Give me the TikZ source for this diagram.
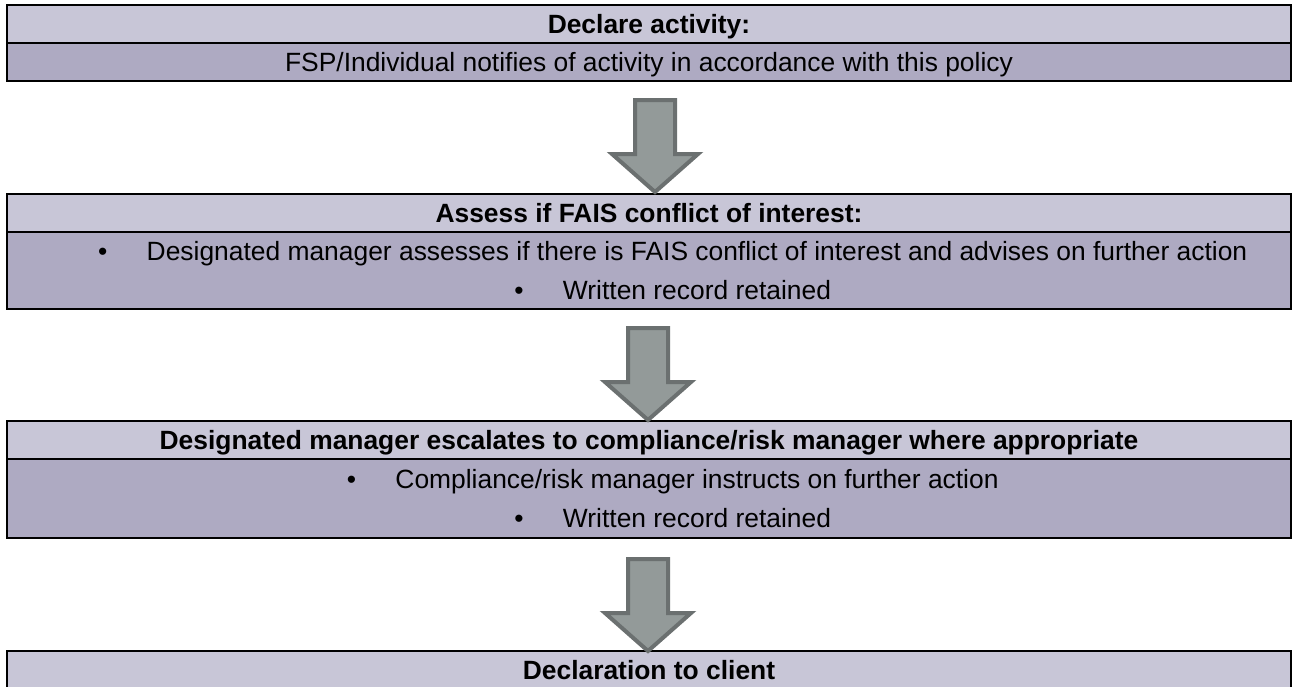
\documentclass[tikz,border=0pt]{standalone}
\usepackage{fontspec}
\setmainfont{Liberation Sans}
\usetikzlibrary{positioning}
\definecolor{headfill}{HTML}{C8C6D7}
\definecolor{bodyfill}{HTML}{AEAAC2}
\definecolor{arrowfill}{HTML}{939A99}
\definecolor{arrowedge}{HTML}{6B7070}

\begin{document}
\begin{tikzpicture}[x=1pt,y=-1pt,
        headcell/.style={draw,line width=2pt,fill=headfill,minimum width=1284pt,minimum height=38pt,inner sep=0pt,
          font=\fontsize{26.4}{30}\selectfont\bfseries,text height=19pt,text depth=0pt},
        bodycell/.style={draw,line width=2pt,fill=bodyfill,minimum width=1284pt,inner sep=0pt,
          font=\fontsize{26.4}{30}\selectfont,text height=19pt,text depth=0pt},
        linetext/.style={inner sep=0pt,font=\fontsize{26.4}{30}\selectfont,text height=19pt,text depth=0pt},
        bulletmark/.style={inner sep=0pt,font=\fontsize{26.4}{30}\selectfont,text height=19pt,text depth=0pt},
        downarrow/.pic={\draw[line width=4pt,draw=arrowedge,fill=arrowfill,line join=miter]
          (-20,2) -- (20,2) -- (20,56) -- (43,56) -- (0,94) -- (-43,56) -- (-20,56) -- cycle;}]

        \useasboundingbox (0,0) rectangle (1293,686);

        %declare
        \node[headcell] (H1) at (649,24) {Declare activity:};
        \node[bodycell,minimum height=38pt] (B1) at (649,62) {FSP/Individual notifies of activity in accordance with this policy};

        %assess
        \node[headcell] (H2) at (649,213) {Assess if FAIS conflict of interest:};
        \node[bodycell,minimum height=77pt] (B2) at (649,270.5) {};
        \node[linetext] (L2a) at (697,251) {Designated manager assesses if there is FAIS conflict of interest and advises on further action};
        \node[linetext] (L2b) at (697,290) {Written record retained};
        \node[bulletmark,left=39pt of L2a] (D2a) {\textbullet};
        \node[bulletmark,left=39pt of L2b] (D2b) {\textbullet};

        %escalate
        \node[headcell] (H3) at (649,440) {Designated manager escalates to compliance/risk manager where appropriate};
        \node[bodycell,minimum height=79pt] (B3) at (649,498.5) {};
        \node[linetext] (L3a) at (697,479) {Compliance/risk manager instructs on further action};
        \node[linetext] (L3b) at (697,518) {Written record retained};
        \node[bulletmark,left=39pt of L3a] (D3a) {\textbullet};
        \node[bulletmark,left=39pt of L3b] (D3b) {\textbullet};

        %client
        \node[headcell] (H4) at (649,670) {Declaration to client};

        %block arrows
        \pic (A1) at (655,98) {downarrow};
        \pic (A2) at (648,326) {downarrow};
        \pic (A3) at (648,557) {downarrow};
\end{tikzpicture}
\end{document}
